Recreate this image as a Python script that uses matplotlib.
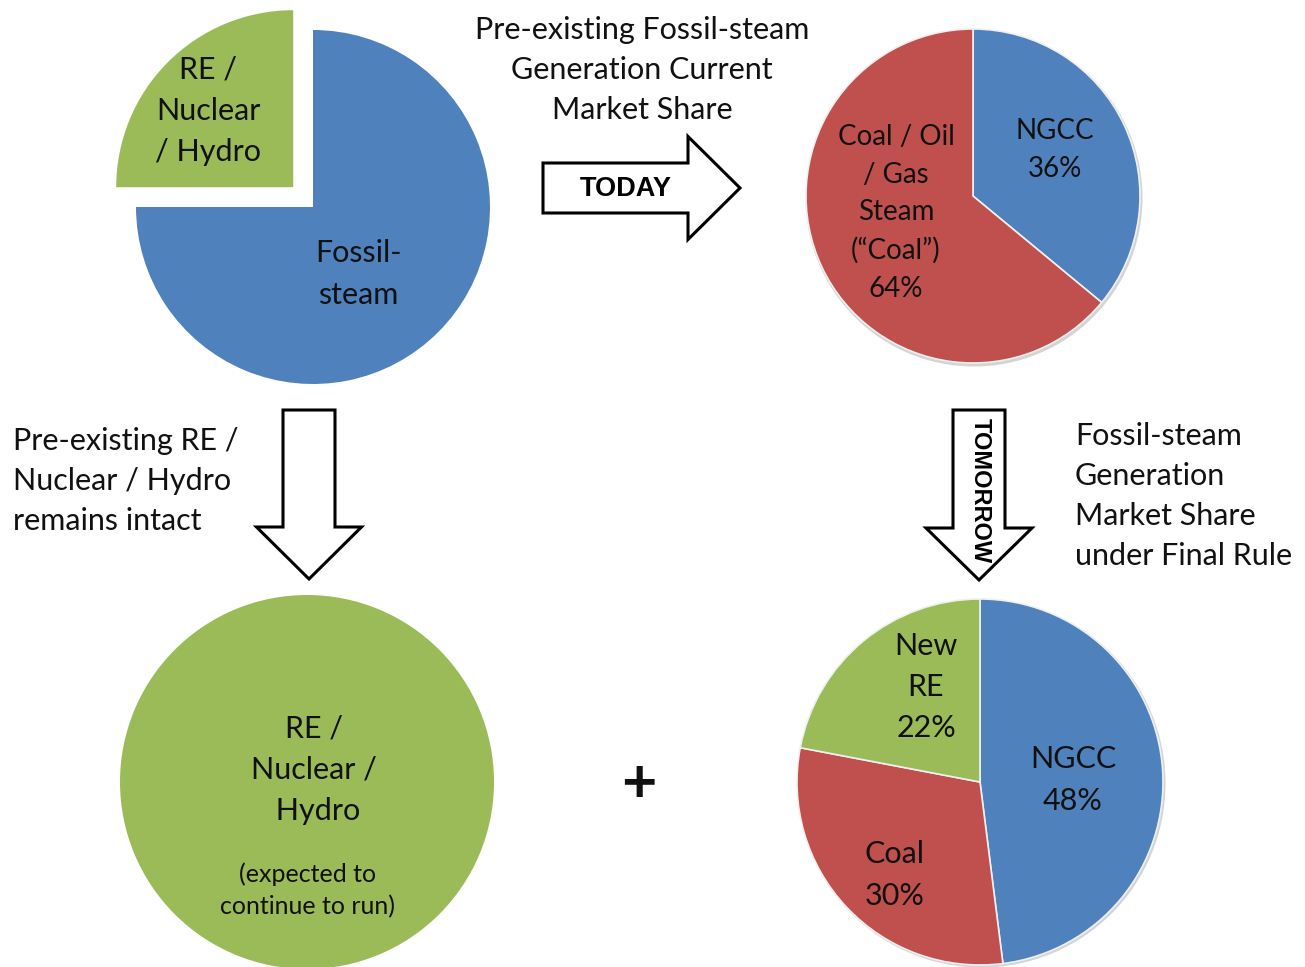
import numpy as np
import matplotlib
matplotlib.use('Agg')
import matplotlib.pyplot as plt
from matplotlib.patches import Polygon, Circle

W, H = 1305, 967
BLUE = '#4F81BD'
RED = '#C0504D'
GREEN = '#9BBB59'
INK = '#111111'

# Data
today_all_labels = ['Fossil-\nsteam', 'RE /\nNuclear\n/ Hydro']
today_all_share = [75, 25]

today_fossil_labels = ['NGCC\n36%', 'Coal / Oil\n/ Gas\nSteam\n(\u201cCoal\u201d)\n64%']
today_fossil_share = [36, 64]

tomorrow_labels = ['NGCC\n48%', 'Coal\n30%', 'New\nRE\n22%']
tomorrow_share = [48, 30, 22]

plt.rcParams['font.family'] = ['Lato', 'DejaVu Sans']

fig = plt.figure(figsize=(W / 100, H / 100), dpi=100)
ax = fig.add_axes([0, 0, 1, 1])


def Y(y):
    # pixel rows are measured from the top
    return H - y


def block_arrow(x0, y0, length, body, head, headlen, direction):
    # outline of a block arrow, start at (x0, y0) centre of the tail
    if direction == 'right':
        pts = [(x0, y0 - body / 2), (x0 + length - headlen, y0 - body / 2),
               (x0 + length - headlen, y0 - head / 2), (x0 + length, y0),
               (x0 + length - headlen, y0 + head / 2), (x0 + length - headlen, y0 + body / 2),
               (x0, y0 + body / 2)]
    else:
        pts = [(x0 - body / 2, y0), (x0 - body / 2, y0 + length - headlen),
               (x0 - head / 2, y0 + length - headlen), (x0, y0 + length),
               (x0 + head / 2, y0 + length - headlen), (x0 + body / 2, y0 + length - headlen),
               (x0 + body / 2, y0)]
    pts = [(px, Y(py)) for px, py in pts]
    ax.add_patch(Polygon(pts, closed=True, facecolor='white', edgecolor='black',
                         linewidth=2.2, joinstyle='miter', zorder=3))


def label(x, y, s, size=22, ls=1.58, ha='center'):
    ax.text(x, Y(y), s, ha=ha, va='center', fontsize=size, linespacing=ls, color=INK, zorder=5)


# top-left pie, green quarter pulled out
ax.pie(today_all_share, colors=[BLUE, GREEN], startangle=90, counterclock=False,
       center=(313, Y(207)), radius=177, explode=[0, 28],
       wedgeprops=dict(linewidth=0))
label(358, 274, today_all_labels[0])
label(208, 111, today_all_labels[1])

# top-right pie
ax.add_patch(Circle((974, Y(198)), 168.5, facecolor='#d4d4d4', edgecolor='none', zorder=0))
ax.pie(today_fossil_share, colors=[BLUE, RED], startangle=90, counterclock=False,
       center=(973, Y(196)), radius=167,
       wedgeprops=dict(edgecolor='#f0f0f0', linewidth=1.2))
label(1055, 150, today_fossil_labels[0], size=20, ls=1.55)
label(896, 213, today_fossil_labels[1], size=20, ls=1.55)

# bottom-left full circle
ax.pie([100], colors=[GREEN], center=(307, Y(782)), radius=187,
       wedgeprops=dict(linewidth=0))
label(314, 770, 'RE /\nNuclear /\n Hydro')
label(308, 890, '(expected to\ncontinue to run)', size=18, ls=1.47)

# bottom-right pie
ax.add_patch(Circle((981.5, Y(783.5)), 184, facecolor='#d4d4d4', edgecolor='none', zorder=0))
ax.pie(tomorrow_share, colors=[BLUE, RED, GREEN], startangle=90, counterclock=False,
       center=(980, Y(782)), radius=183,
       wedgeprops=dict(edgecolor='#f0f0f0', linewidth=1.2))
label(1073, 780, tomorrow_labels[0])
label(895, 875, tomorrow_labels[1])
label(926, 687, tomorrow_labels[2])

# arrows
block_arrow(543, 188, 197, 50, 103, 52, 'right')
ax.text(626, Y(189), 'TODAY', ha='center', va='center', fontsize=19.5, fontweight='bold',
        family='Liberation Sans', zorder=4)
block_arrow(309, 410, 169, 52, 105, 52, 'down')
block_arrow(979, 410, 170, 52, 106, 52, 'down')
ax.text(980, Y(491), 'TOMORROW', ha='center', va='center', fontsize=17, fontweight='bold',
        family='Liberation Sans', rotation=-90, zorder=4)

# captions
label(642, 70, 'Pre-existing Fossil-steam\nGeneration Current\nMarket Share', ls=1.53)
label(13, 481, 'Pre-existing RE /\nNuclear / Hydro\nremains intact', ha='left', ls=1.53)
label(1075, 496, 'Fossil-steam\nGeneration\nMarket Share\nunder Final Rule', ha='left', ls=1.53)
ax.text(639, Y(784), '+', ha='center', va='center', fontsize=44, fontweight='bold', color=INK)

ax.set_xlim(0, W)
ax.set_ylim(0, H)
ax.set_aspect('equal')
ax.axis('off')

fig.savefig('out.png', dpi=100)
